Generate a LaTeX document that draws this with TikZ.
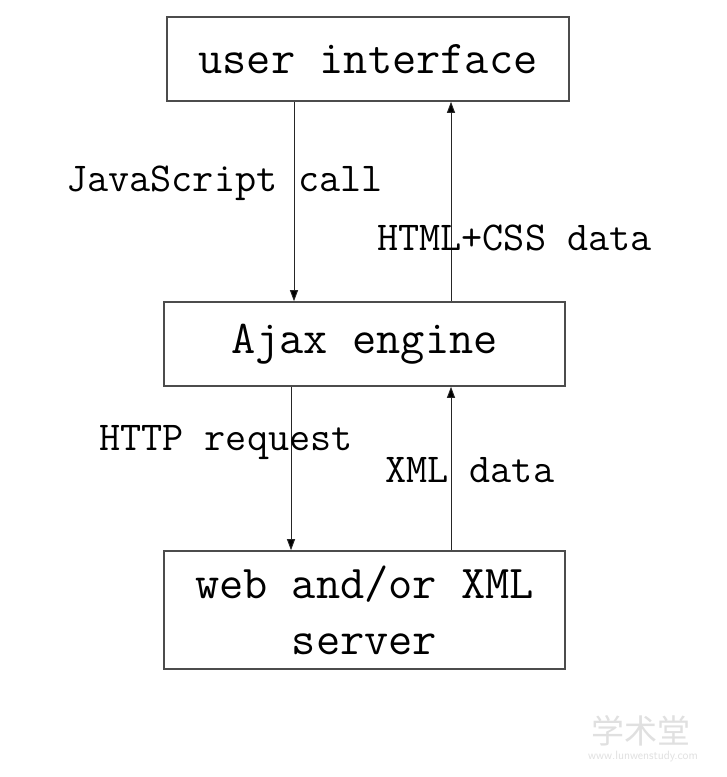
\documentclass[tikz,border=0pt]{standalone}
\usepackage{fontspec}
\newfontfamily\cjk{Noto Sans CJK SC}
\usetikzlibrary{arrows.meta}
\begin{document}
\begin{tikzpicture}[x=1pt,y=-1pt,
  box/.style={draw=black!70,line width=1.6pt,inner sep=0pt,align=center,
    font=\ttfamily\fontsize{47}{56}\selectfont},
  lbl/.style={inner sep=0pt,font=\ttfamily\fontsize{41}{48}\selectfont},
  arr/.style={draw=black!85,line width=0.9pt,-{Triangle[length=11pt,width=8pt,fill=black]}},
  wm/.style={inner sep=0pt,text=black!12}]
\useasboundingbox (0,0) rectangle (727,777);
\fill[white] (0,0) rectangle (727,777);
\node[box,minimum width=402pt,minimum height=84pt] (ui) at (368,59) {user interface};
\node[box,minimum width=401pt,minimum height=84pt] (ajax) at (364.5,344) {Ajax engine};
\node[box,minimum width=401pt,minimum height=118pt] (srv) at (364.5,610) {web and/or XML\\server};
\coordinate (a1) at (294,0);
\coordinate (a2) at (451,0);
\coordinate (a3) at (291,0);
\coordinate (a4) at (451,0);
\draw[arr] (a1 |- ui.south) -- (a1 |- ajax.north);
\draw[arr] (a2 |- ajax.north) -- (a2 |- ui.south);
\draw[arr] (a3 |- ajax.south) -- (a3 |- srv.north);
\draw[arr] (a4 |- srv.north) -- (a4 |- ajax.south);
\node[lbl,anchor=west] (l1) at (66,183) {JavaScript call};
\node[lbl,anchor=west] (l2) at (377,238) {HTML+CSS data};
\node[lbl,anchor=west] (l3) at (99,443) {HTTP request};
\node[lbl,anchor=west] (l4) at (385,470) {XML data};
\node[wm,font=\cjk\fontsize{33}{36}\selectfont] (w1) at (641,731) {学术堂};
\node[wm,font=\sffamily\fontsize{12}{14}\selectfont] (w2) at (643,757) {www.lunwenstudy.com};
\end{tikzpicture}
\end{document}
